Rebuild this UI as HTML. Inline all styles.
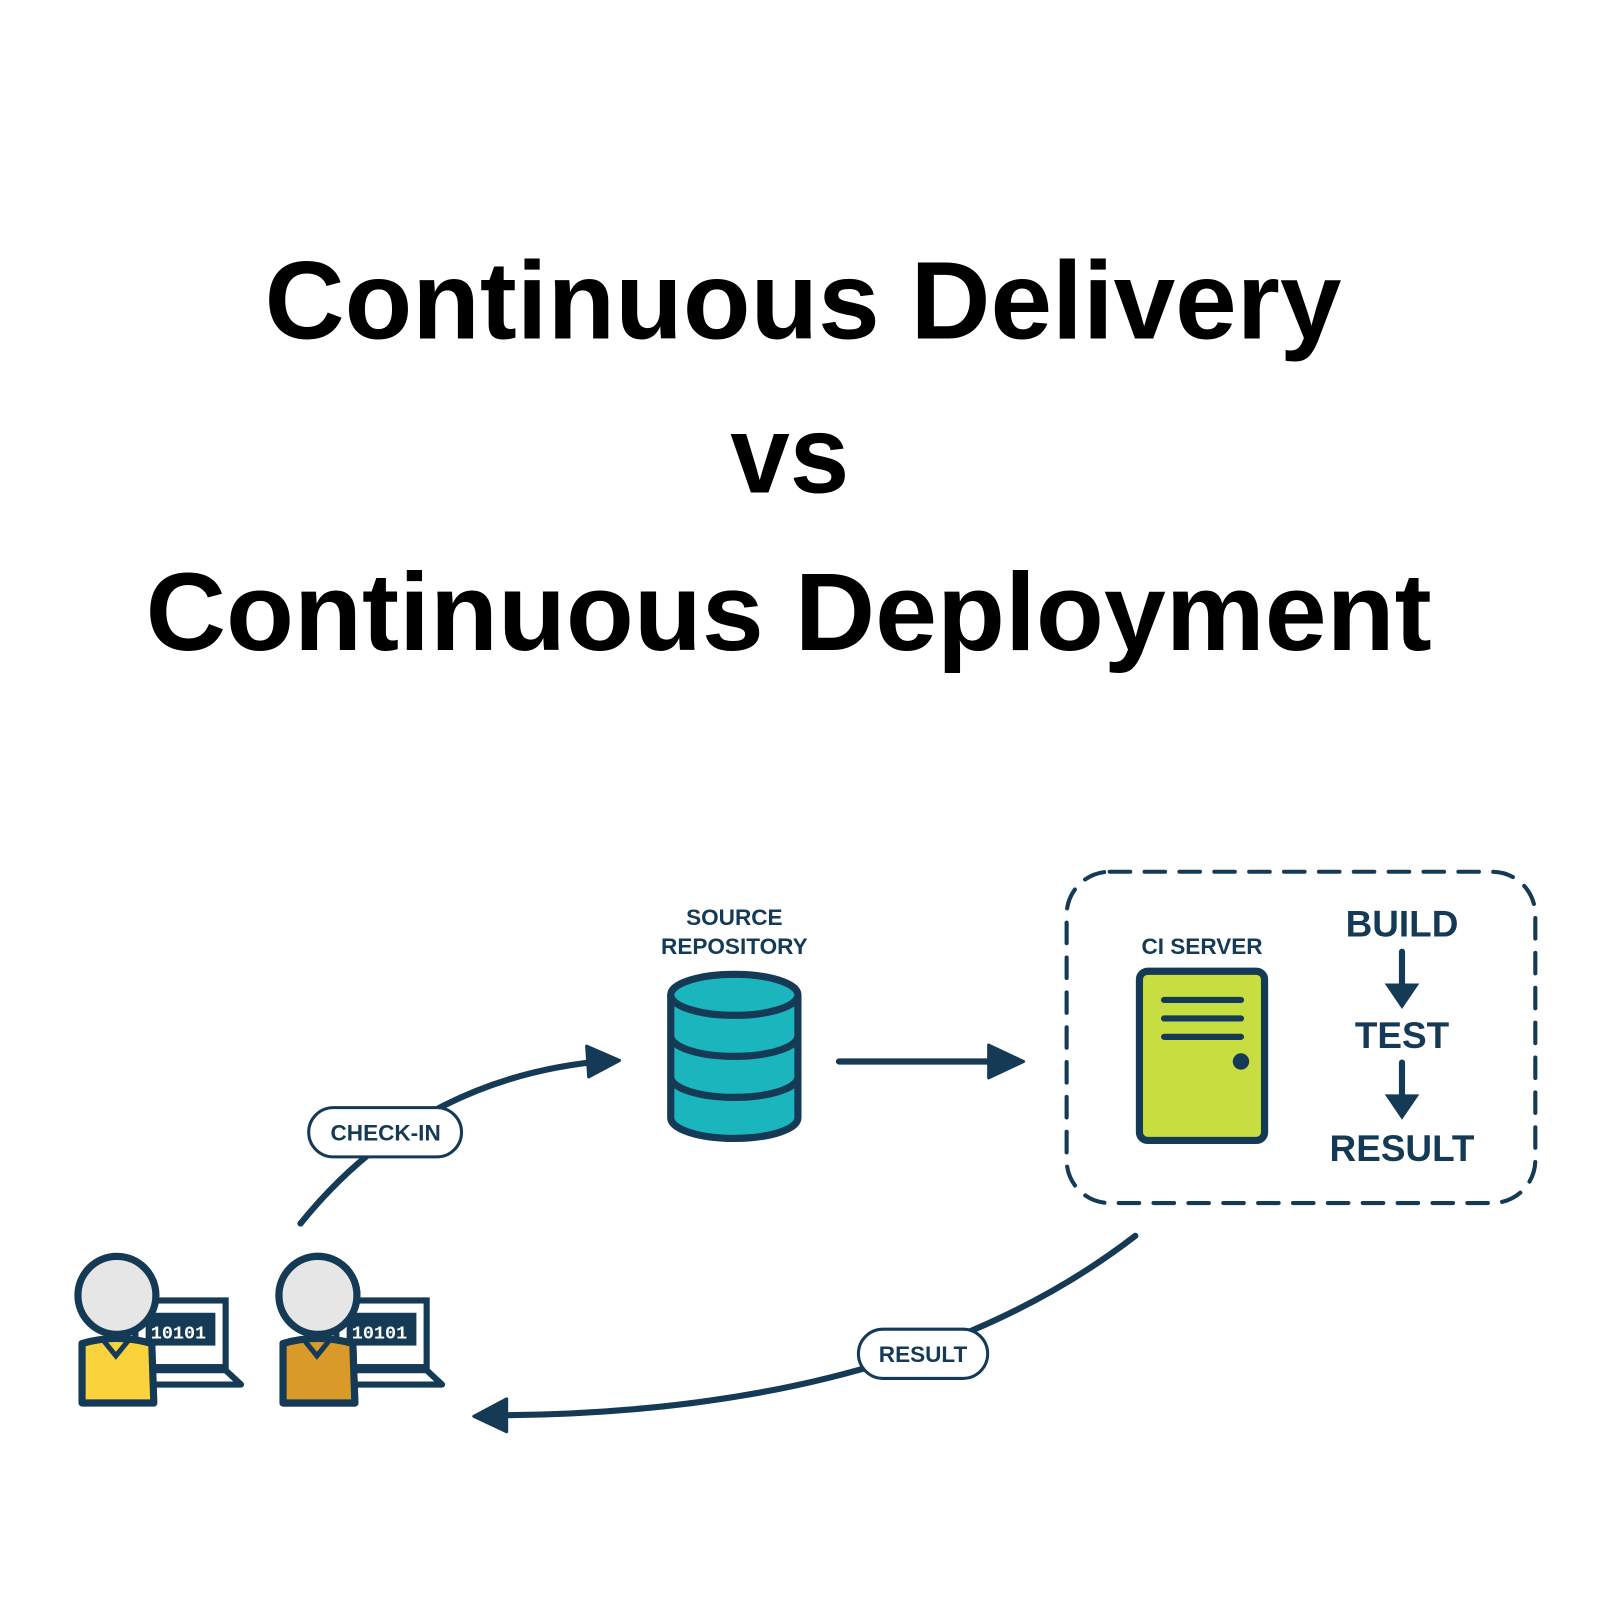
<!DOCTYPE html>
<html><head><meta charset="utf-8"><style>html,body{margin:0;padding:0;background:#fff}svg{display:block}</style></head>
<body>
<svg width="1600" height="1600" viewBox="0 0 1600 1600" xmlns="http://www.w3.org/2000/svg" font-family="Liberation Sans, sans-serif">
<rect width="1600" height="1600" fill="#fff"/>
<g transform="scale(1.0256)">
<g font-weight="bold" fill="#000" text-anchor="middle" font-size="108">
<text x="783" y="330" textLength="1050" lengthAdjust="spacingAndGlyphs">Continuous Delivery</text>
<text x="770" y="480" textLength="116" lengthAdjust="spacingAndGlyphs">vs</text>
<text x="769" y="634" textLength="1254" lengthAdjust="spacingAndGlyphs">Continuous Deployment</text>
</g>
<g stroke="#153a55" fill="none" stroke-width="6" stroke-linecap="round">
<path d="M293 1193 Q410 1048 596 1034"/>
<path d="M572 1020 L604 1034 L574 1050 Z" fill="#153a55" stroke-linejoin="round" stroke-width="3"/>
<line x1="818" y1="1035" x2="985" y2="1035"/>
<path d="M964 1019 L998 1035 L964 1051 Z" fill="#153a55" stroke-width="3" stroke-linejoin="round"/>
<path d="M1107 1205 Q880 1380 475 1380"/>
<path d="M494 1364 L462 1381 L494 1396 Z" fill="#153a55" stroke-width="3" stroke-linejoin="round"/>
<rect x="1040" y="850" width="457" height="323" rx="42" stroke-width="4" stroke-dasharray="20 14"/>
</g>
<g stroke="#153a55" stroke-width="3" fill="#fff">
<rect x="301" y="1080" width="149" height="48" rx="24"/>
<rect x="837" y="1296" width="126" height="48" rx="24"/>
</g>
<g fill="#153a55" font-weight="bold" text-anchor="middle">
<text x="376" y="1112" font-size="22">CHECK-IN</text>
<text x="900" y="1328" font-size="22">RESULT</text>
<text x="716" y="902" font-size="22">SOURCE</text>
<text x="716" y="930" font-size="22">REPOSITORY</text>
<text x="1172" y="930" font-size="22">CI SERVER</text>
<text x="1367" y="913" font-size="36">BUILD</text>
<text x="1367" y="1022" font-size="36">TEST</text>
<text x="1367" y="1132" font-size="36">RESULT</text>
</g>
<g stroke="#153a55" stroke-width="6" fill="#153a55" stroke-linecap="round">
<line x1="1367" y1="928" x2="1367" y2="968"/><path d="M1352 960 L1367 982 L1382 960 Z" stroke-width="2"/>
<line x1="1367" y1="1036" x2="1367" y2="1076"/><path d="M1352 1068 L1367 1090 L1382 1068 Z" stroke-width="2"/>
</g>
<g stroke="#153a55" stroke-width="7" fill="#1ab5bd">
<path d="M654 970 L654 1090 A62 20 0 0 0 778 1090 L778 970"/>
<path d="M654 1010 A62 20 0 0 0 778 1010" fill="none"/>
<path d="M654 1050 A62 20 0 0 0 778 1050" fill="none"/>
<ellipse cx="716" cy="970" rx="62" ry="20"/>
</g>
<rect x="1111" y="947" width="122" height="165" rx="8" fill="#c8dd3f" stroke="#153a55" stroke-width="7"/>
<g stroke="#153a55" stroke-width="6" stroke-linecap="round">
<line x1="1135" y1="975" x2="1210" y2="975"/><line x1="1135" y1="993" x2="1210" y2="993"/><line x1="1135" y1="1011" x2="1210" y2="1011"/>
</g>
<circle cx="1210" cy="1035" r="8" fill="#153a55"/>
<g id="p1">
<rect x="132" y="1268" width="88" height="65" fill="#fff" stroke="#153a55" stroke-width="6"/>
<rect x="142" y="1280" width="68" height="32" fill="#153a55"/>
<path d="M132 1336 L220 1336 L235 1350 L120 1350 Z" fill="#fff" stroke="#153a55" stroke-width="6" stroke-linejoin="round"/>
<text x="174" y="1305" font-size="18" font-weight="bold" fill="#fff" text-anchor="middle" font-family="Liberation Mono, monospace">10101</text>
<path d="M80 1310 Q113 1300 148 1310 L150 1368 L80 1368 Z" fill="#f9d23c" stroke="#153a55" stroke-width="7" stroke-linejoin="round"/>
<path d="M100 1306 L113 1322 L126 1306" fill="none" stroke="#153a55" stroke-width="5"/>
<circle cx="114" cy="1263" r="38" fill="#e6e6e6" stroke="#153a55" stroke-width="7"/>
</g>
<use href="#p1" transform="translate(196,0)"/>
<path d="M276 1310 Q309 1300 344 1310 L346 1368 L276 1368 Z" fill="#d99a2a" stroke="#153a55" stroke-width="7" stroke-linejoin="round"/>
<path d="M296 1306 L309 1322 L322 1306" fill="none" stroke="#153a55" stroke-width="5"/>
<circle cx="310" cy="1263" r="38" fill="#e6e6e6" stroke="#153a55" stroke-width="7"/>
</g>
</svg>
</body></html>
